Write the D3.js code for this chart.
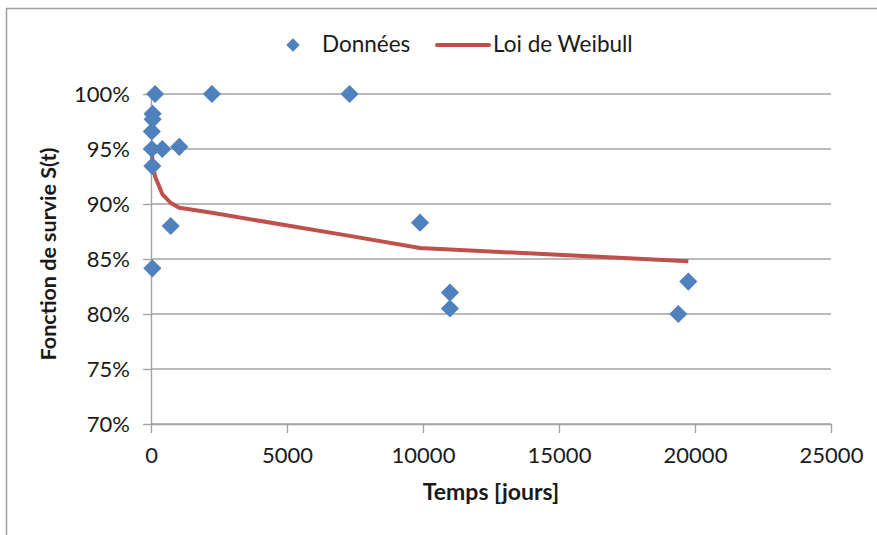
<!DOCTYPE html>
<html lang="fr">
    <head>
        <meta charset="utf-8">
        <title>Fonction de survie - loi de Weibull</title>
        <script src="https://d3js.org/d3.v7.min.js"></script>
        <style>
            body { margin: 0; background: #fff; }
            text { font-family: Lato, "DejaVu Sans", sans-serif; fill: #1a1a1a; }
        </style>
    </head>
    <body>
    <div id="mainDiv"></div>

        <script type="text/javascript">
            // observed points (time in days, survival)
            const dataTimes = [150, 2240, 7300, 60, 60, 30, 30, 415, 1040, 50, 724, 50, 9890, 10990, 10990, 19754, 19386]
            const dataSurvival = [1.00, 1.00, 1.00, 0.982, 0.977, 0.966, 0.950, 0.950, 0.952, 0.9345, 0.880, 0.8415, 0.883, 0.8195, 0.805, 0.8295, 0.800]

            // fitted Weibull curve
            const weibullTimes = [30, 50, 60, 150, 415, 724, 1040, 2240, 7300, 9890, 10990, 19386, 19754]
            const weibullValues = [0.947, 0.940, 0.937, 0.925, 0.909, 0.901, 0.8965, 0.892, 0.871, 0.860, 0.8587, 0.8485, 0.848]

            const xTicks = [0, 5000, 10000, 15000, 20000, 25000]
            const yTicks = [0.70, 0.75, 0.80, 0.85, 0.90, 0.95, 1.00]

            const width = 877
            const height = 535

            const plot = { left: 151, right: 831, top: 94, bottom: 424 }

            const svg = d3.select('#mainDiv').append('svg')
                .attr('width', width)
                .attr('height', height)

            // chart area border (only top and left visible)
            svg.append('path')
                .attr('d', `M6.5,${height} V8.5 H${width}`)
                .attr('fill', 'none')
                .attr('stroke', '#a0a0a0')
                .attr('stroke-width', 1.5)

            const x = d3.scaleLinear().domain([0, 25000]).range([plot.left, plot.right])
            const y = d3.scaleLinear().domain([0.70, 1.00]).range([plot.bottom, plot.top])

            const grey = '#a3a3a3'

            // horizontal gridlines
            svg.append('g').selectAll('line')
                .data(yTicks)
                .join('line')
                .attr('x1', plot.left)
                .attr('x2', plot.right)
                .attr('y1', d => y(d))
                .attr('y2', d => y(d))
                .attr('stroke', grey)
                .attr('stroke-width', 1.4)

            // axes
            const yAxis = d3.axisLeft(y)
                .tickValues(yTicks)
                .tickFormat(d3.format('.0%'))
                .tickSize(8)
                .tickSizeOuter(0)
                .tickPadding(13)

            const xAxis = d3.axisBottom(x)
                .tickValues(xTicks)
                .tickFormat(d3.format('d'))
                .tickSize(9)
                .tickSizeOuter(0)
                .tickPadding(14)

            const yAxisPlot = svg.append('g')
                .attr('transform', `translate(${plot.left},0)`)
                .call(yAxis)

            const xAxisPlot = svg.append('g')
                .attr('transform', `translate(0,${plot.bottom})`)
                .call(xAxis)

            for (const ax of [yAxisPlot, xAxisPlot]) {
                ax.select('.domain').attr('stroke', grey).attr('stroke-width', 1.4)
                ax.selectAll('.tick line').attr('stroke', grey).attr('stroke-width', 1.4)
                ax.selectAll('.tick text')
                    .attr('fill', '#1a1a1a')
                    .style('font-family', 'Lato, "DejaVu Sans", sans-serif')
                    .style('font-size', '22px')
            }

            // Weibull line
            const line = d3.line()
                .x(d => x(d[0]))
                .y(d => y(d[1]))

            svg.append('path')
                .datum(weibullTimes.map((t, i) => [t, weibullValues[i]]))
                .attr('d', line)
                .attr('fill', 'none')
                .attr('stroke', '#c0504d')
                .attr('stroke-width', 4)
                .attr('stroke-linejoin', 'round')

            // data diamonds
            const diamond = d3.symbol().type(d3.symbolSquare).size(165)

            svg.append('g').selectAll('path')
                .data(dataTimes.map((t, i) => [t, dataSurvival[i]]))
                .join('path')
                .attr('d', diamond)
                .attr('transform', d => `translate(${x(d[0])},${y(d[1])}) rotate(45)`)
                .attr('fill', '#4f81bd')

            // axis titles
            svg.append('text')
                .attr('x', (plot.left + plot.right) / 2)
                .attr('y', 500)
                .attr('text-anchor', 'middle')
                .style('font-size', '23px')
                .style('font-weight', 'bold')
                .text('Temps [jours]')

            svg.append('text')
                .attr('transform', `translate(56,${(plot.top + plot.bottom) / 2 - 5}) rotate(-90)`)
                .attr('text-anchor', 'middle')
                .style('font-size', '21.5px')
                .style('font-weight', 'bold')
                .text('Fonction de survie S(t)')

            // legend
            const legend = svg.append('g')

            legend.append('path')
                .attr('d', d3.symbol().type(d3.symbolSquare).size(90))
                .attr('transform', 'translate(293,45) rotate(45)')
                .attr('fill', '#4f81bd')

            legend.append('text')
                .attr('x', 322)
                .attr('y', 52)
                .style('font-size', '22.5px')
                .text('Données')

            legend.append('line')
                .attr('x1', 437).attr('x2', 489)
                .attr('y1', 45).attr('y2', 45)
                .attr('stroke', '#c0504d')
                .attr('stroke-width', 4)
                .attr('stroke-linecap', 'round')

            legend.append('text')
                .attr('x', 493)
                .attr('y', 52)
                .style('font-size', '22.5px')
                .text('Loi de Weibull')
        </script>
    </body>
</html>
